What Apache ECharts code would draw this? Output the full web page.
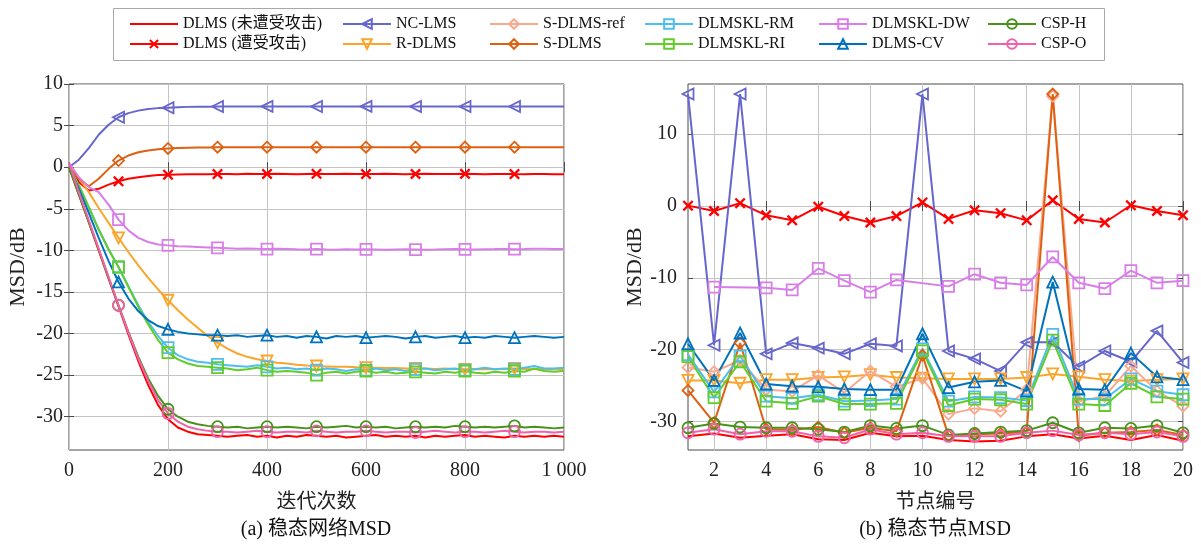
<!DOCTYPE html>
<html>
<head>
<meta charset="utf-8">
<script src="https://cdn.jsdelivr.net/npm/echarts@6/dist/echarts.min.js"></script>
<style>
html,body{margin:0;padding:0;background:#fff;}
#chart{width:1201px;height:544px;}
</style>
</head>
<body>
<div id="chart"></div>
<script>
// ---------------- DATA ----------------
// (a) convergence: iteration samples
const iters = [0,20,40,60,80,100,120,140,160,180,200,220,240,260,280,300,320,340,360,380,400,420,440,460,480,500,520,540,560,580,600,620,640,660,680,700,720,740,760,780,800,820,840,860,880,900,920,940,960,980,1000];
const markerIters = [100,200,300,400,500,600,700,800,900];
const xTickValuesA = [0,200,400,600,800,1000];
const xTickLabelsA = ['0','200','400','600','800','1 000'];
const yTickValuesA = [-30,-25,-20,-15,-10,-5,0,5,10];

const convDLMSClean = [0,-3.3,-6.6,-10.0,-13.4,-16.7,-20.1,-23.3,-26.2,-28.6,-30.3,-31.3,-31.8,-32.1,-32.2,-32.3,
  -32.4,-32.3,-32.2,-32.4,-32.3, -32.5,-32.3,-32.4,-32.2,-32.3, -32.4,-32.3,-32.5,-32.4,-32.3, -32.2,-32.4,-32.3,-32.4,-32.3,
  -32.5,-32.3,-32.4,-32.3,-32.2, -32.4,-32.3,-32.4,-32.5,-32.3, -32.4,-32.3,-32.4,-32.3,-32.4];
const convDLMSAttacked = [0,-1.8,-2.8,-2.6,-2.1,-1.7,-1.4,-1.2,-1.05,-0.95,-0.9,-0.88,-0.86,-0.85,-0.84,-0.83,
  -0.82,-0.84,-0.8,-0.83,-0.81, -0.8,-0.82,-0.84,-0.81,-0.8, -0.83,-0.82,-0.8,-0.81,-0.83, -0.82,-0.8,-0.81,-0.84,-0.82,
  -0.8,-0.82,-0.83,-0.81,-0.8, -0.82,-0.84,-0.82,-0.81,-0.83, -0.84,-0.82,-0.83,-0.85,-0.84];
const convNCLMS = [0,0.9,2.3,3.9,5.1,6.0,6.5,6.8,7.0,7.1,7.15,7.2,7.25,7.27,7.28,7.3,
  7.3,7.31,7.3,7.3,7.31, 7.3,7.3,7.31,7.3,7.3, 7.31,7.3,7.3,7.3,7.31, 7.3,7.3,7.31,7.3,7.3,
  7.3,7.31,7.3,7.3,7.3, 7.31,7.3,7.3,7.31,7.3, 7.3,7.3,7.31,7.3,7.3];
const convRDLMS = [0,-1.3,-3.0,-4.9,-6.7,-8.5,-10.2,-11.8,-13.3,-14.7,-16.0,-17.2,-18.3,-19.3,-20.3,-21.1,
  -21.8,-22.4,-22.8,-23.1,-23.3, -23.5,-23.6,-23.75,-23.85,-23.9, -23.95,-24.0,-24.0,-24.05,-24.1, -24.1,-24.15,-24.15,-24.2,-24.2,
  -24.2,-24.25,-24.2,-24.25,-24.3, -24.25,-24.3,-24.3,-24.25,-24.2, -24.25,-24.3,-24.25,-24.3,-24.3];
const convSDLMS = [0,-1.4,-2.3,-1.4,-0.2,0.8,1.4,1.8,2.0,2.15,2.25,2.3,2.35,2.37,2.38,2.4,
  2.4,2.4,2.41,2.4,2.4, 2.4,2.41,2.4,2.4,2.4, 2.4,2.4,2.41,2.4,2.4, 2.4,2.4,2.4,2.41,2.4,
  2.4,2.4,2.4,2.4,2.41, 2.4,2.4,2.4,2.4,2.4, 2.41,2.4,2.4,2.4,2.4];
const convRM = [0,-2.2,-4.8,-7.5,-9.9,-12.0,-14.3,-16.6,-18.6,-20.3,-21.7,-22.6,-23.1,-23.4,-23.5,-23.7,
  -23.8,-23.9,-24.0,-23.8,-24.0, -24.2,-24.1,-24.3,-24.2,-24.4, -24.2,-24.3,-24.5,-24.3,-24.4, -24.2,-24.4,-24.3,-24.5,-24.3,
  -24.2,-24.4,-24.3,-24.2,-24.4, -24.3,-24.1,-24.3,-24.2,-24.3, -24.1,-23.9,-24.2,-24.2,-24.1];
const convRI = [0,-2.2,-4.8,-7.5,-9.9,-12.0,-14.4,-16.8,-18.9,-20.8,-22.3,-23.1,-23.6,-23.9,-24.0,-24.1,
  -24.2,-24.4,-24.3,-24.1,-24.4, -24.6,-24.5,-24.6,-24.7,-25.0, -24.7,-24.6,-24.8,-24.6,-24.5, -24.7,-24.6,-24.8,-24.7,-24.6,
  -24.7,-24.8,-24.6,-24.7,-24.5, -24.7,-24.8,-24.6,-24.7,-24.5, -24.6,-24.2,-24.5,-24.6,-24.5];
const convDW = [0.5,-1.2,-2.4,-3.0,-4.5,-6.3,-7.6,-8.5,-9.0,-9.3,-9.4,-9.5,-9.55,-9.6,-9.65,-9.7,
  -9.75,-9.8,-9.78,-9.82,-9.85, -9.8,-9.83,-9.88,-9.9,-9.85, -9.9,-9.92,-9.88,-9.9,-9.87, -9.9,-9.93,-9.9,-9.88,-9.9,
  -9.92,-9.9,-9.87,-9.85,-9.88, -9.9,-9.86,-9.85,-9.83,-9.86, -9.85,-9.8,-9.82,-9.85,-9.83];
const convCV = [0,-2.6,-5.5,-8.5,-11.3,-13.8,-15.8,-17.3,-18.4,-19.1,-19.5,-19.8,-20.0,-20.1,-20.2,-20.2,
  -20.3,-20.2,-20.4,-20.3,-20.2, -20.4,-20.3,-20.5,-20.3,-20.4, -20.6,-20.3,-20.4,-20.3,-20.5, -20.4,-20.3,-20.4,-20.6,-20.4,
  -20.3,-20.5,-20.4,-20.3,-20.5, -20.4,-20.5,-20.3,-20.4,-20.5, -20.4,-20.3,-20.4,-20.5,-20.4];
const convCSPH = [0,-3.3,-6.6,-9.9,-13.3,-16.6,-19.8,-22.8,-25.4,-27.5,-29.1,-30.0,-30.6,-30.9,-31.1,-31.2,
  -31.3,-31.2,-31.4,-31.3,-31.2, -31.3,-31.2,-31.3,-31.4,-31.2, -31.3,-31.2,-31.1,-31.3,-31.2, -31.3,-31.2,-31.4,-31.3,-31.2,
  -31.3,-31.2,-31.3,-31.1,-31.2, -31.3,-31.2,-31.3,-31.2,-31.1, -31.3,-31.2,-31.3,-31.4,-31.3];
const convCSPO = [0.5,-3.0,-6.4,-9.8,-13.2,-16.6,-19.9,-23.0,-25.7,-28.0,-29.6,-30.6,-31.2,-31.5,-31.7,-31.8,
  -31.8,-31.9,-31.8,-31.7,-31.8, -31.9,-31.8,-31.8,-31.9,-31.7, -31.8,-31.9,-31.8,-31.8,-31.7, -31.8,-31.9,-31.8,-31.8,-31.9,
  -31.8,-31.7,-31.8,-31.9,-31.8, -31.8,-31.9,-31.8,-31.7,-31.8, -31.9,-31.8,-31.8,-31.9,-31.8];

// (b) node MSD
const nodes = [1,2,3,4,5,6,7,8,9,10,11,12,13,14,15,16,17,18,19,20];
const xTickValuesB = [2,4,6,8,10,12,14,16,18,20];
const yTickValuesB = [-30,-20,-10,0,10];

const nodeDLMSClean    = [-32.1,-31.7,-32.3,-32.0,-31.8,-32.5,-32.6,-31.6,-32.1,-32.0,-32.6,-32.8,-32.7,-32.1,-31.8,-32.4,-32.0,-32.6,-31.9,-32.7];
const nodeDLMSAttacked = [0.05,-0.7,0.4,-1.3,-2.0,-0.1,-1.4,-2.3,-1.4,0.5,-1.8,-0.6,-1.0,-2.0,0.8,-1.8,-2.3,0.1,-0.7,-1.3];
const nodeNCLMS        = [15.6,-19.4,15.6,-20.6,-19.1,-19.8,-20.6,-19.2,-19.5,15.6,-20.2,-21.3,-23.0,-19.0,-19.0,-22.4,-20.2,-21.7,-17.4,-21.8];
const nodeRDLMS        = [-24.3,-24.3,-24.7,-24.2,-24.2,-23.9,-23.8,-23.5,-23.9,-24.0,-24.1,-24.1,-24.1,-23.9,-23.4,-23.8,-24.2,-24.4,-24.2,-24.1];
const nodeSDLMSref     = [-22.5,-23.1,-21.5,-25.6,-25.8,-23.6,-26.0,-23.0,-25.2,-24.0,-29.0,-28.2,-28.6,-25.6,15.3,-27.2,-26.5,-22.3,-25.8,-27.9];
const nodeSDLMS        = [-25.7,-30.2,-19.1,-31.1,-31.2,-30.8,-31.6,-30.9,-31.4,-20.8,-32.0,-31.8,-31.7,-31.5,15.6,-32.0,-31.6,-31.5,-31.2,-31.9];
const nodeRM           = [-20.7,-25.9,-20.9,-26.5,-26.8,-26.3,-27.2,-27.1,-26.9,-19.9,-27.2,-26.6,-26.7,-27.1,-17.9,-26.9,-26.9,-24.1,-25.8,-26.3];
const nodeRI           = [-21.0,-26.7,-21.7,-27.2,-27.5,-26.5,-27.6,-27.6,-27.5,-20.2,-27.8,-26.9,-27.0,-27.6,-18.7,-27.6,-27.8,-24.7,-26.6,-26.9];
const nodeDW           = [null,-11.3,null,-11.4,-11.7,-8.7,-10.4,-12.0,-10.3,null,-11.2,-9.5,-10.7,-11.0,-7.1,-10.7,-11.5,-9.0,-10.7,-10.4];
const nodeCV           = [-19.2,-24.3,-17.7,-24.8,-25.1,-25.2,-25.5,-25.6,-25.6,-17.8,-25.3,-24.5,-24.3,-25.8,-10.6,-25.5,-25.6,-20.5,-23.8,-24.2];
const nodeCSPH         = [-30.9,-30.3,-30.8,-30.9,-30.9,-31.1,-31.5,-30.6,-31.0,-30.6,-31.9,-31.7,-31.5,-31.3,-30.2,-31.6,-30.9,-31.0,-30.6,-31.6];
const nodeCSPO         = [-31.6,-31.1,-31.8,-31.4,-31.4,-32.1,-32.3,-31.1,-31.8,-31.6,-32.1,-32.1,-32.1,-31.6,-31.3,-31.9,-31.6,-31.8,-31.5,-32.1];

const seriesNames = ['DLMS (未遭受攻击)','DLMS (遭受攻击)','NC-LMS','R-DLMS','S-DLMS-ref','S-DLMS',
                     'DLMSKL-RM','DLMSKL-RI','DLMSKL-DW','DLMS-CV','CSP-H','CSP-O'];
const convData = [convDLMSClean, convDLMSAttacked, convNCLMS, convRDLMS, null, convSDLMS,
                  convRM, convRI, convDW, convCV, convCSPH, convCSPO];
const nodeData = [nodeDLMSClean, nodeDLMSAttacked, nodeNCLMS, nodeRDLMS, nodeSDLMSref, nodeSDLMS,
                  nodeRM, nodeRI, nodeDW, nodeCV, nodeCSPH, nodeCSPO];

// ---------------- STYLE ----------------
const X_PATH = 'path://M0,1.5L1.5,0L5,3.5L8.5,0L10,1.5L6.5,5L10,8.5L8.5,10L5,6.5L1.5,10L0,8.5L3.5,5Z';
const styles = [
  {color:'#FF0000', symbol:'none'},
  {color:'#FF0000', symbol:X_PATH, filled:true},
  {color:'#6666CC', symbol:'triangle', rotate:90},
  {color:'#FBA52B', symbol:'triangle', rotate:180},
  {color:'#F9A98C', symbol:'diamond'},
  {color:'#DE6010', symbol:'diamond'},
  {color:'#4DBEEE', symbol:'rect'},
  {color:'#62CC29', symbol:'rect'},
  {color:'#D97EE8', symbol:'rect'},
  {color:'#0072BD', symbol:'triangle'},
  {color:'#46921A', symbol:'circle'},
  {color:'#F062AA', symbol:'circle'}
];
const SERIF = '"Liberation Serif","Times New Roman","Noto Sans CJK SC",serif';
const CJK = '"Noto Sans CJK SC",sans-serif';
const AXC = '#4a4a4a';
const GRIDC = '#c4c4c4';
const MS = 11;

function itemStyleOf(st){
  if (st.filled) return {color: st.color, borderWidth: 0};
  return {color: 'transparent', borderColor: st.color, borderWidth: 1.8};
}

const series = [];
seriesNames.forEach((name, k) => {
  const st = styles[k];
  if (convData[k]) {
    series.push({
      type:'line', name, xAxisIndex:0, yAxisIndex:0,
      data: iters.map((x,i)=>[x, convData[k][i]]),
      symbol: st.symbol, symbolRotate: st.rotate || 0,
      symbolSize: (v) => markerIters.indexOf(v[0]) >= 0 ? MS : 0,
      showAllSymbol: true,
      lineStyle: {color: st.color, width: 2},
      itemStyle: itemStyleOf(st),
      emphasis: {disabled: true}, silent: true
    });
  }
  series.push({
    type:'line', name, xAxisIndex:2, yAxisIndex:2,
    data: nodes.map((x,i)=>[x, nodeData[k][i]]),
    connectNulls: true,
    symbol: st.symbol, symbolRotate: st.rotate || 0,
    symbolSize: MS, showAllSymbol: true,
    lineStyle: {color: st.color, width: 2},
    itemStyle: itemStyleOf(st),
    emphasis: {disabled: true}, silent: true
  });
});

// legend: 6 columns x 2 rows, column-major
const legendCols = [129, 342, 489, 644, 818, 987];
const legendRows = [15, 35];
const legends = seriesNames.map((name, k) => {
  const col = Math.floor(k / 2), row = k % 2;
  const d = {name};
  if (styles[k].symbol === 'none') d.itemStyle = {color:'transparent', borderWidth:0, opacity:0};
  return {
    data:[d], left: legendCols[col], top: legendRows[row], padding:0,
    itemWidth:48, itemHeight:12, itemGap:0, selectedMode:false,
    textStyle:{fontFamily:SERIF, fontSize:16, color:'#111', lineHeight:18}
  };
});

function valAxis(opts){
  return Object.assign({
    type:'value',
    axisLine:{show:false},
    axisTick:{show:true, inside:true, length:5, lineStyle:{color:AXC}},
    splitLine:{show:false},
    axisLabel:{show:false}
  }, opts);
}

const option = {
  animation:false,
  backgroundColor:'#fff',
  graphic:[
    {type:'rect', z:0, shape:{x:113.5, y:8.5, width:991, height:52}, style:{fill:'#fff', stroke:'#a8a8a8', lineWidth:1}},
    {type:'text', z:10, x:316, y:530, style:{text:'(a) 稳态网络MSD', font:'20px '+SERIF, fill:'#111', textAlign:'center', textVerticalAlign:'middle'}},
    {type:'text', z:10, x:935, y:530, style:{text:'(b) 稳态节点MSD', font:'20px '+SERIF, fill:'#111', textAlign:'center', textVerticalAlign:'middle'}}
  ],
  legend: legends,
  grid:[
    {left:69, top:84, width:495, height:366, show:true, borderColor:AXC, borderWidth:1, backgroundColor:'#fff'},
    {left:688, top:84, width:495, height:366, show:true, borderColor:AXC, borderWidth:1, backgroundColor:'#fff'}
  ],
  xAxis:[
    valAxis({gridIndex:0, position:'bottom', min:0, max:1000,
      axisTick:{show:true, inside:true, length:5, lineStyle:{color:AXC}, customValues:xTickValuesA},
      axisLabel:{show:true, customValues:xTickValuesA, margin:11, color:'#222', fontFamily:SERIF, fontSize:20,
        formatter:(v)=>xTickLabelsA[xTickValuesA.indexOf(v)]},
      splitLine:{show:true, lineStyle:{color:GRIDC, width:1}},
      name:'迭代次数', nameLocation:'middle', nameGap:40,
      nameTextStyle:{fontFamily:CJK, fontSize:20, color:'#222'}}),
    valAxis({gridIndex:0, position:'top', min:0, max:1000,
      axisTick:{show:true, inside:true, length:5, lineStyle:{color:AXC}, customValues:xTickValuesA}}),
    valAxis({gridIndex:1, position:'bottom', min:1, max:20,
      axisTick:{show:true, inside:true, length:5, lineStyle:{color:AXC}, customValues:xTickValuesB},
      axisLabel:{show:true, customValues:xTickValuesB, margin:11, color:'#222', fontFamily:SERIF, fontSize:20},
      splitLine:{show:true, lineStyle:{color:GRIDC, width:1}},
      name:'节点编号', nameLocation:'middle', nameGap:40,
      nameTextStyle:{fontFamily:CJK, fontSize:20, color:'#222'}}),
    valAxis({gridIndex:1, position:'top', min:1, max:20,
      axisTick:{show:true, inside:true, length:5, lineStyle:{color:AXC}, customValues:xTickValuesB}})
  ],
  yAxis:[
    valAxis({gridIndex:0, position:'left', min:-34, max:10,
      axisTick:{show:true, inside:true, length:5, lineStyle:{color:AXC}, customValues:yTickValuesA},
      axisLabel:{show:true, customValues:yTickValuesA, margin:6, color:'#222', fontFamily:SERIF, fontSize:20},
      splitLine:{show:true, lineStyle:{color:GRIDC, width:1}},
      name:'MSD/dB', nameLocation:'middle', nameGap:40, nameRotate:90,
      nameTextStyle:{fontFamily:SERIF, fontSize:22, color:'#222'}}),
    valAxis({gridIndex:0, position:'right', min:-34, max:10,
      axisTick:{show:true, inside:true, length:5, lineStyle:{color:AXC}, customValues:yTickValuesA}}),
    valAxis({gridIndex:1, position:'left', min:-34, max:17,
      axisTick:{show:true, inside:true, length:5, lineStyle:{color:AXC}, customValues:yTickValuesB},
      axisLabel:{show:true, customValues:yTickValuesB, margin:11, color:'#222', fontFamily:SERIF, fontSize:20},
      splitLine:{show:true, lineStyle:{color:GRIDC, width:1}},
      name:'MSD/dB', nameLocation:'middle', nameGap:40, nameRotate:90,
      nameTextStyle:{fontFamily:SERIF, fontSize:22, color:'#222'}}),
    valAxis({gridIndex:1, position:'right', min:-34, max:17,
      axisTick:{show:true, inside:true, length:5, lineStyle:{color:AXC}, customValues:yTickValuesB}})
  ],
  series
};

// map series axes: left grid uses xAxis 0 / yAxis 0, right grid uses xAxis 2 / yAxis 2
const chart = echarts.init(document.getElementById('chart'), null, {renderer:'canvas'});
chart.setOption(option);
</script>
</body>
</html>
